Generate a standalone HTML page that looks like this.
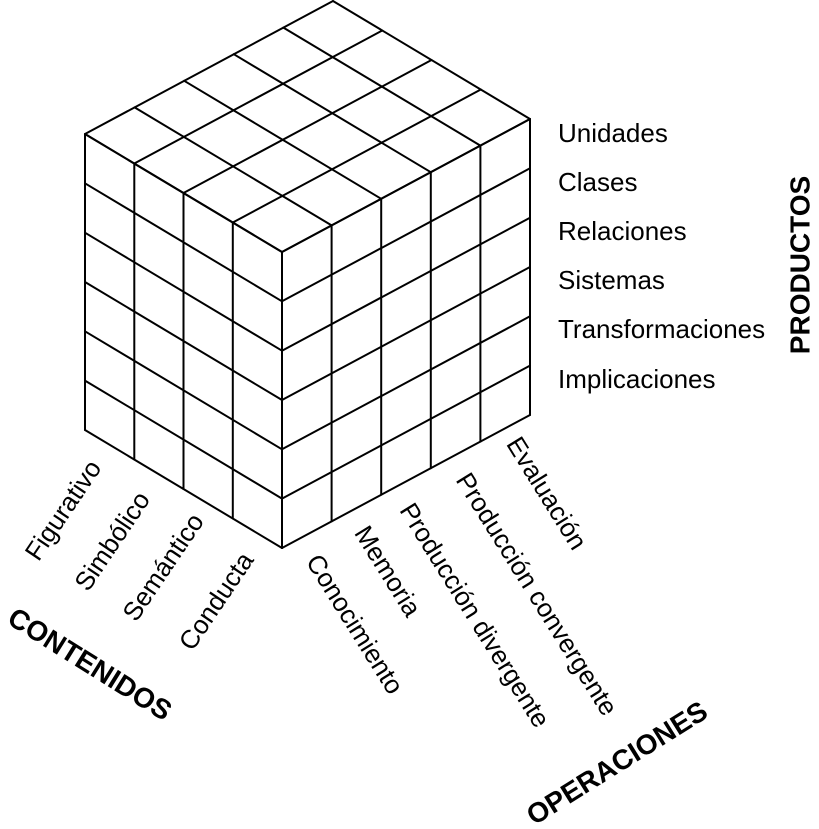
<!DOCTYPE html>
<html><head><meta charset="utf-8"><style>
html,body{margin:0;padding:0;background:#fff;}
svg{display:block;}
text{font-family:"Liberation Sans",sans-serif;fill:#000;}
.l{font-size:26px;}
.b{font-size:28px;font-weight:bold;}
</style></head><body>
<svg id="s" width="819" height="829" viewBox="0 0 819 829" xmlns="http://www.w3.org/2000/svg">
<g id="g" stroke="#000" stroke-width="2" stroke-linecap="round" fill="none"></g>
<text class="l" x="558" y="142">Unidades</text>
<text class="l" x="558" y="191">Clases</text>
<text class="l" x="558" y="240">Relaciones</text>
<text class="l" x="558" y="289">Sistemas</text>
<text class="l" x="558" y="338">Transformaciones</text>
<text class="l" x="558" y="388">Implicaciones</text>
<text class="b" text-anchor="middle" dominant-baseline="central" transform="translate(800,265) rotate(-90)">PRODUCTOS</text>
<text class="l" text-anchor="middle" dominant-baseline="central" transform="translate(63,510) rotate(-56)">Figurativo</text>
<text class="l" text-anchor="middle" dominant-baseline="central" transform="translate(112,541) rotate(-56)">Simbólico</text>
<text class="l" text-anchor="middle" dominant-baseline="central" transform="translate(163,567) rotate(-56)">Semántico</text>
<text class="l" text-anchor="middle" dominant-baseline="central" transform="translate(216,601) rotate(-56)">Conducta</text>
<text class="l" text-anchor="middle" dominant-baseline="central" transform="translate(355,624) rotate(58)">Conocimiento</text>
<text class="l" text-anchor="middle" dominant-baseline="central" transform="translate(388,571) rotate(58)">Memoria</text>
<text class="l" text-anchor="middle" dominant-baseline="central" transform="translate(475,615) rotate(58)">Producción divergente</text>
<text class="l" text-anchor="middle" dominant-baseline="central" transform="translate(537,594) rotate(58)">Producción convergente</text>
<text class="l" text-anchor="middle" dominant-baseline="central" transform="translate(547,493) rotate(58)">Evaluación</text>
<text class="b" text-anchor="middle" dominant-baseline="central" transform="translate(90,664) rotate(32)">CONTENIDOS</text>
<text class="b" text-anchor="middle" dominant-baseline="central" transform="translate(617,763) rotate(-32)">OPERACIONES</text>
</svg>
<script>
(function(){
var g=document.getElementById('g');
var A=[85,134],u=[49.25,29.5],v=[49.6,-26.6],h=49.33;
var F=[A[0]+4*u[0],A[1]+4*u[1]];
function P(o,i,a,j,b,k){return [o[0]+i*a[0]+j*b[0],o[1]+i*a[1]+j*b[1]+k*h];}
function L(p,q){var e=document.createElementNS('http://www.w3.org/2000/svg','line');
e.setAttribute('x1',p[0].toFixed(1));e.setAttribute('y1',p[1].toFixed(1));
e.setAttribute('x2',q[0].toFixed(1));e.setAttribute('y2',q[1].toFixed(1));g.appendChild(e);}
var i,j,k;
for(i=0;i<=4;i++)L(P(A,i,u,0,v,0),P(A,i,u,5,v,0));
for(j=0;j<=5;j++)L(P(A,0,u,j,v,0),P(A,4,u,j,v,0));
for(i=0;i<=4;i++)L(P(A,i,u,0,v,0),P(A,i,u,0,v,6));
for(k=0;k<=6;k++)L(P(A,0,u,0,v,k),P(A,4,u,0,v,k));
for(j=0;j<=5;j++)L(P(F,0,u,j,v,0),P(F,0,u,j,v,6));
for(k=0;k<=6;k++)L(P(F,0,u,0,v,k),P(F,0,u,5,v,k));
})();
</script>
</body></html>
